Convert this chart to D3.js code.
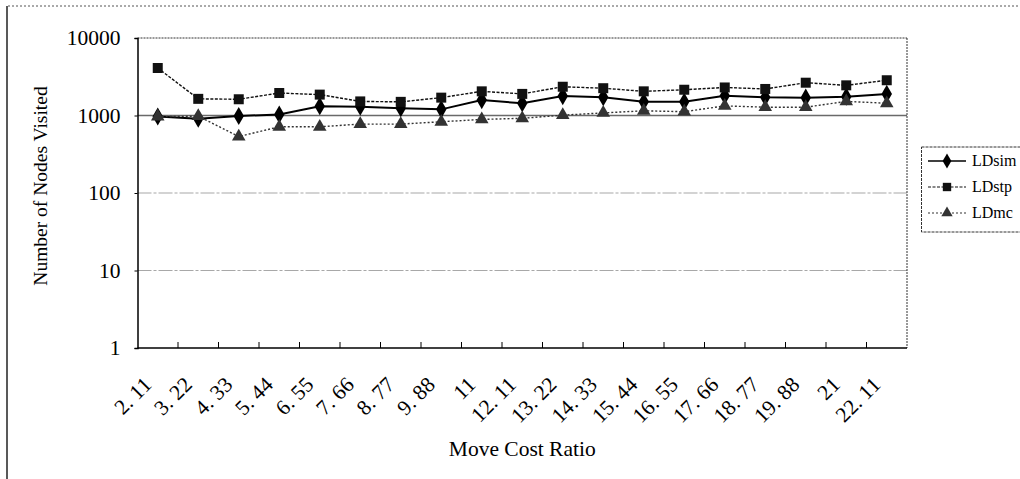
<!DOCTYPE html>
<html>
<head>
<meta charset="utf-8">
<script src="https://cdn.jsdelivr.net/npm/d3@7"></script>
<style>
  body { margin: 0; background: #fff; }
  svg { display: block; font-family: "Liberation Serif", "DejaVu Serif", serif; }
</style>
</head>
<body>
<svg id="chart" width="1020" height="479"></svg>
<script>
// Chart data
const categories = ["2. 11", "3. 22", "4. 33", "5. 44", "6. 55", "7. 66", "8. 77", "9. 88", "11", "12. 11",
    "13. 22", "14. 33", "15. 44", "16. 55", "17. 66", "18. 77", "19. 88", "21", "22. 11"];
const ld_sim = [970, 910, 985, 1030, 1320, 1300, 1240, 1200, 1580, 1440, 1780, 1720, 1500, 1500, 1800, 1720, 1700, 1750, 1900];
const ld_stp = [4100, 1640, 1620, 1950, 1860, 1520, 1500, 1700, 2050, 1900, 2350, 2250, 2050, 2150, 2300, 2200, 2650, 2450, 2850];
const ld_mc = [965, 980, 535, 715, 715, 775, 775, 830, 890, 920, 1010, 1080, 1150, 1120, 1330, 1280, 1280, 1520, 1440];
const y_ticks = [1, 10, 100, 1000, 10000];
const series_names = ["LDsim", "LDstp", "LDmc"];

const plot_left = 137.5, plot_right = 907, plot_top = 38, plot_bottom = 348;

let svg = d3.select("#chart");

let x = d3.scaleBand().domain(categories).range([plot_left, plot_right]);
let y = d3.scaleLog().domain([1, 10000]).range([plot_bottom, plot_top]);
const cx = (c) => x(c) + x.bandwidth() / 2;

// Outer frame of the figure (scan edges)
svg.append("line").attr("x1", 7).attr("x2", 7).attr("y1", 6).attr("y2", 479)
    .attr("stroke", "#222").attr("stroke-width", 1.5);
svg.append("line").attr("x1", 8).attr("x2", 1020).attr("y1", 6).attr("y2", 6)
    .attr("stroke", "#555").attr("stroke-width", 1).attr("stroke-dasharray", "2,2");

// Gridlines
svg.append("g")
    .selectAll("line")
    .data(y_ticks.filter(t => t > 1 && t < 10000))
    .enter()
    .append("line")
    .attr("x1", plot_left).attr("x2", plot_right)
    .attr("y1", d => y(d)).attr("y2", d => y(d))
    .attr("stroke", d => d === 1000 ? "#6a6a6a" : "#a8a8a8")
    .attr("stroke-width", d => d === 1000 ? 1.5 : 1.2)
    .attr("stroke-dasharray", d => d === 1000 ? null : "14,2,3,2");

// Plot frame: top and right dotted, left and bottom solid
svg.append("line").attr("x1", plot_left).attr("x2", plot_right).attr("y1", plot_top).attr("y2", plot_top)
    .attr("stroke", "#333").attr("stroke-dasharray", "2,1");
svg.append("line").attr("x1", plot_right).attr("x2", plot_right).attr("y1", plot_top).attr("y2", plot_bottom)
    .attr("stroke", "#333").attr("stroke-dasharray", "2,1");

// Y axis
let y_axis = svg.append("g")
    .attr("transform", `translate(${plot_left},0)`)
    .call(d3.axisLeft(y).tickValues(y_ticks).tickFormat(d3.format("d")).tickSize(3).tickPadding(14));
y_axis.select(".domain").attr("stroke", "#000").attr("stroke-width", 1.5);
y_axis.selectAll("text").attr("font-size", 21.5).attr("fill", "#000")
    .attr("font-family", "Liberation Serif");

// X axis: ticks at category boundaries, pointing inward
svg.append("line").attr("x1", plot_left).attr("x2", plot_right).attr("y1", plot_bottom).attr("y2", plot_bottom)
    .attr("stroke", "#000").attr("stroke-width", 1.5);
svg.append("g")
    .selectAll("line")
    .data(categories.slice(1))
    .enter()
    .append("line")
    .attr("x1", d => x(d)).attr("x2", d => x(d))
    .attr("y1", plot_bottom).attr("y2", plot_bottom - 6)
    .attr("stroke", "#000");

svg.append("g")
    .selectAll("text")
    .data(categories)
    .enter()
    .append("text")
    .attr("transform", d => `translate(${cx(d) - 5},386) rotate(-45)`)
    .attr("text-anchor", "end")
    .attr("font-size", 21.5)
    .text(d => d);

// Axis titles
svg.append("text")
    .attr("x", (plot_left + plot_right) / 2).attr("y", 456)
    .attr("text-anchor", "middle").attr("font-size", 21.5)
    .text("Move Cost Ratio");
svg.append("text")
    .attr("transform", `translate(47,186) rotate(-90)`)
    .attr("text-anchor", "middle").attr("font-size", 19.5)
    .text("Number of Nodes Visited");

// Series
const styles = [
    { values: ld_sim, dash: null, color: "#000", width: 2, symbol: d3.symbolDiamond, size: 95 },
    { values: ld_stp, dash: "3,1.5", color: "#111", width: 1.4, symbol: d3.symbolSquare, size: 100 },
    { values: ld_mc, dash: "2,2", color: "#333", width: 1.4, symbol: d3.symbolTriangle, size: 80 }
];

let line = d3.line().x((d, i) => cx(categories[i])).y(d => y(d));

styles.forEach(s => {
    svg.append("path")
        .attr("d", line(s.values))
        .attr("fill", "none")
        .attr("stroke", s.color)
        .attr("stroke-width", s.width)
        .attr("stroke-dasharray", s.dash);
    svg.append("g")
        .selectAll("path")
        .data(s.values)
        .enter()
        .append("path")
        .attr("d", d3.symbol().type(s.symbol).size(s.size))
        .attr("transform", (d, i) => `translate(${cx(categories[i])},${y(d)})`)
        .attr("fill", s.color);
});

// Legend
let legend = svg.append("g");
legend.append("rect")
    .attr("x", 921.5).attr("y", 147).attr("width", 130).attr("height", 85)
    .attr("fill", "#fff").attr("stroke", "#333").attr("stroke-dasharray", "3,1");
styles.forEach((s, i) => {
    const ly = 161 + i * 26;
    legend.append("line")
        .attr("x1", 928).attr("x2", 966).attr("y1", ly).attr("y2", ly)
        .attr("stroke", s.color).attr("stroke-width", s.width * 0.8).attr("stroke-dasharray", s.dash);
    legend.append("path")
        .attr("d", d3.symbol().type(s.symbol).size(s.size * 0.7))
        .attr("transform", `translate(947,${ly})`)
        .attr("fill", s.color);
    legend.append("text")
        .attr("x", 972).attr("y", ly + 5)
        .attr("font-size", 16)
        .text(series_names[i]);
});
</script>
</body>
</html>
